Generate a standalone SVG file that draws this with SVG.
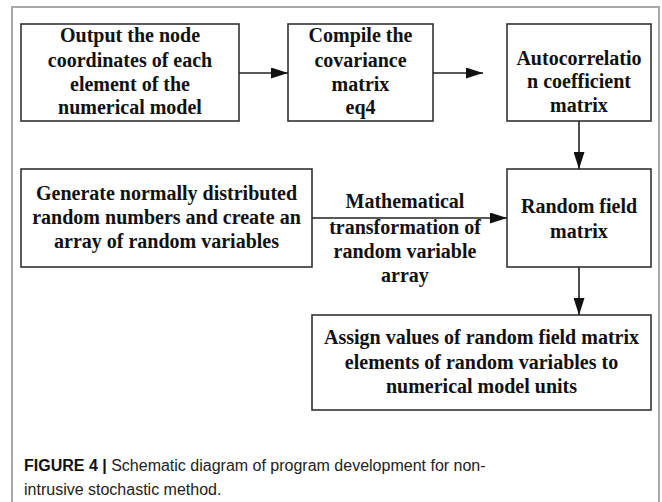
<svg xmlns="http://www.w3.org/2000/svg" width="662" height="502" viewBox="0 0 662 502">
  <style>
    .frame { fill: none; stroke: #a9a9a9; stroke-width: 2; }
    .box { fill: #ffffff; stroke: #333333; stroke-width: 1.6; }
    .lbl { font-family: "Liberation Serif", "Times New Roman", serif; font-weight: bold; font-size: 20px; fill: #111111; text-anchor: middle; }
    .edge { fill: none; stroke: #222222; stroke-width: 1.6; }
    .cap { font-family: "Liberation Sans", Arial, sans-serif; font-size: 16px; fill: #222222; }
    .capb { font-weight: bold; fill: #111111; }
  </style>
  <defs>
    <marker id="arrow" markerUnits="userSpaceOnUse" markerWidth="17" markerHeight="11" refX="17" refY="5.5" orient="auto">
      <path d="M0,0 L17,5.5 L0,11 z" fill="#111111"/>
    </marker>
  </defs>

  <rect width="662" height="502" fill="#ffffff"/>
  <!-- outer panel border, open at the bottom -->
  <path class="frame" d="M12,502 V7 H659 V502"/>

  <g id="node-output">
    <rect class="box" x="21" y="24" width="218" height="97"/>
    <text class="lbl" x="130" y="42">Output the node</text>
    <text class="lbl" x="130" y="67">coordinates of each</text>
    <text class="lbl" x="130" y="91">element of the</text>
    <text class="lbl" x="130" y="114">numerical model</text>
  </g>

  <g id="node-covariance">
    <rect class="box" x="288" y="24" width="145" height="97"/>
    <text class="lbl" x="360.5" y="42">Compile the</text>
    <text class="lbl" x="360.5" y="67">covariance</text>
    <text class="lbl" x="360.5" y="91">matrix</text>
    <text class="lbl" x="360.5" y="114">eq4</text>
  </g>

  <g id="node-autocorrelation">
    <rect class="box" x="507" y="24" width="144" height="97"/>
    <text class="lbl" x="579" y="65">Autocorrelatio</text>
    <text class="lbl" x="579" y="88">n coefficient</text>
    <text class="lbl" x="579" y="112">matrix</text>
  </g>

  <g id="node-generate">
    <rect class="box" x="21" y="169" width="291" height="98"/>
    <text class="lbl" x="166.5" y="200">Generate normally distributed</text>
    <text class="lbl" x="166.5" y="224">random numbers and create an</text>
    <text class="lbl" x="166.5" y="248">array of random variables</text>
  </g>

  <g id="node-random-field">
    <rect class="box" x="507" y="169" width="144" height="98"/>
    <text class="lbl" x="579" y="213">Random field</text>
    <text class="lbl" x="579" y="238">matrix</text>
  </g>

  <g id="node-assign">
    <rect class="box" x="312" y="315" width="339" height="95"/>
    <text class="lbl" x="481.5" y="344">Assign values of random field matrix</text>
    <text class="lbl" x="481.5" y="369">elements of random variables to</text>
    <text class="lbl" x="481.5" y="393">numerical model units</text>
  </g>

  <g id="connectors">
    <line class="edge" x1="239" y1="73" x2="288" y2="73" marker-end="url(#arrow)"/>
    <line class="edge" x1="433" y1="73" x2="483" y2="73" marker-end="url(#arrow)"/>
    <line class="edge" x1="579" y1="121" x2="579" y2="169" marker-end="url(#arrow)"/>
    <line class="edge" x1="312" y1="218" x2="507" y2="218" marker-end="url(#arrow)"/>
    <line class="edge" x1="579" y1="267" x2="579" y2="315" marker-end="url(#arrow)"/>
    <g id="edge-label">
      <text class="lbl" x="405" y="208">Mathematical</text>
      <text class="lbl" x="405" y="234">transformation of</text>
      <text class="lbl" x="405" y="258">random variable</text>
      <text class="lbl" x="405" y="282">array</text>
    </g>
  </g>

  <g id="caption">
    <text class="cap" x="24" y="471"><tspan class="capb">FIGURE 4 |</tspan> Schematic diagram of program development for non-</text>
    <text class="cap" x="24" y="495">intrusive stochastic method.</text>
  </g>
</svg>
